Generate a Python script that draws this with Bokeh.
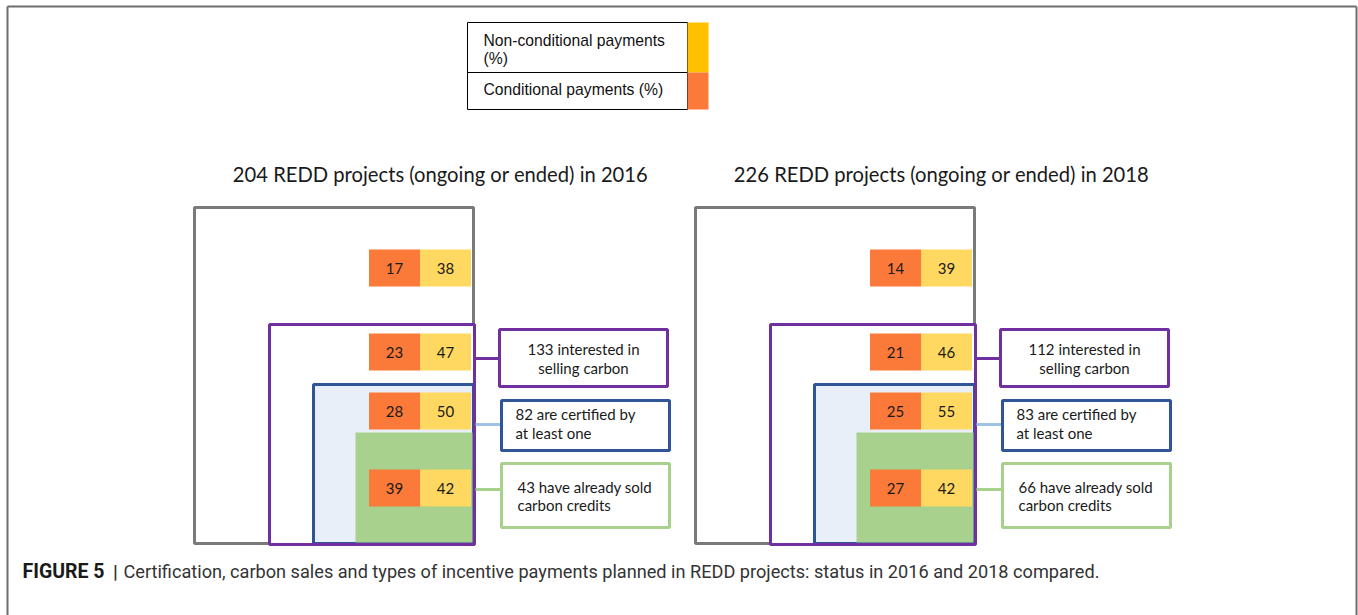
from bokeh.plotting import figure
from bokeh.models import Range1d, ColumnDataSource
from bokeh.core.properties import value
from bokeh.embed import file_html
from bokeh.resources import INLINE

# ---------------- data ----------------
years = ["2016", "2018"]
total_projects = [204, 226]
interested = [133, 112]
certified = [82, 83]
sold = [43, 66]
conditional_pct = [[17, 23, 28, 39], [14, 21, 25, 27]]
nonconditional_pct = [[38, 47, 50, 42], [39, 46, 55, 42]]
legend_labels = ["Non-conditional payments", "(%)", "Conditional payments (%)"]
caption_bold = "FIGURE 5"
caption_sep = "|"
caption_text = ("Certification, carbon sales and types of incentive payments planned "
                "in REDD projects: status in 2016 and 2018 compared.")

# ---------------- layout (screen pixels) ----------------
W, H = 1358, 615
panel_dx = [0, 501]
C_GRAY = "#7a7a7a"
C_PURPLE = "#7030a0"
C_BLUE = "#2f5597"
C_LBLUE = "#9dc3e6"
C_GREEN = "#a9d18e"
C_ORANGE = "#fb7a3a"
C_YELLOW = "#ffd862"
C_FILLBLUE = "#e9eff8"
CAL = value("Lato")

p = figure(width=W, height=H, output_backend="svg", toolbar_location=None,
           x_range=Range1d(0, W), y_range=Range1d(H, 0),
           min_border=0)
p.axis.visible = False
p.grid.visible = False
p.outline_line_color = None
p.background_fill_color = "white"

# outer frame (left, top, right)
p.multi_line(xs=[[7, 7], [7, 1356], [1356, 1356]], ys=[[630, 6], [6, 6], [6, 630]],
             line_color="#6e6e6e", line_width=2)

# legend
p.quad(left=[467, 467], right=[687, 687], top=[22, 72], bottom=[72, 109],
       fill_color="white", line_color="black", line_width=1)
p.quad(left=[687, 687], right=[708, 708], top=[22, 72], bottom=[72, 109],
       fill_color=["#ffc000", "#fb7a3a"], line_color=None)
p.text(x=[483, 483, 483], y=[40, 58, 89], text=legend_labels,
       text_font=value("Liberation Sans"), text_font_size=value("15.7px"),
       text_color="#111111", text_align="left", text_baseline="middle")

def boxes(l, r, t, b):
    ls, rs, ts, bs = [], [], [], []
    for dx in panel_dx:
        ls.append(l + dx); rs.append(r + dx); ts.append(t); bs.append(b)
    return dict(left=ls, right=rs, top=ts, bottom=bs)

# nested boxes
p.quad(**boxes(194, 473, 207, 543), fill_color="white", line_color=C_GRAY, line_width=3)
p.quad(**boxes(269, 474, 324, 544), fill_color="white", line_color=None)
p.quad(**boxes(313, 473, 384, 543), fill_color=C_FILLBLUE, line_color=C_BLUE, line_width=3)
p.quad(**boxes(355, 472, 432, 542), fill_color=C_GREEN, line_color=None)
p.quad(**boxes(269, 474, 324, 544), fill_color=None, line_color=C_PURPLE, line_width=3)

# number boxes
row_tops = [249, 333, 392, 469]
row_h = 37
src = dict(ol=[], orr=[], yl=[], yr=[], t=[], b=[], ox=[], yx=[], cy=[], ot=[], yt=[])
for pi, dx in enumerate(panel_dx):
    for ri, top in enumerate(row_tops):
        src["ol"].append(368.5 + dx); src["orr"].append(419.5 + dx)
        src["yl"].append(419.5 + dx); src["yr"].append(470.5 + dx)
        src["t"].append(top); src["b"].append(top + row_h)
        src["ox"].append(394 + dx); src["yx"].append(445 + dx)
        src["cy"].append(top + row_h / 2)
        src["ot"].append(str(conditional_pct[pi][ri]))
        src["yt"].append(str(nonconditional_pct[pi][ri]))
s = ColumnDataSource(src)
p.quad(left="ol", right="orr", top="t", bottom="b", source=s, fill_color=C_ORANGE, line_color=None)
p.quad(left="yl", right="yr", top="t", bottom="b", source=s, fill_color=C_YELLOW, line_color=None)
p.text(x="ox", y="cy", text="ot", source=s, text_font=CAL, text_font_size=value("15px"),
       text_color="#1a1a1a", text_align="center", text_baseline="middle")
p.text(x="yx", y="cy", text="yt", source=s, text_font=CAL, text_font_size=value("15px"),
       text_color="#1a1a1a", text_align="center", text_baseline="middle")

# connectors
for y, c, x1 in [(358, C_PURPLE, 499), (424, C_LBLUE, 501), (489, C_GREEN, 501)]:
    p.multi_line(xs=[[475 + dx, x1 + dx] for dx in panel_dx], ys=[[y, y] for _ in panel_dx],
                 line_color=c, line_width=3)

# label boxes
p.quad(**boxes(499, 667, 329, 386), fill_color="white", line_color=C_PURPLE, line_width=3)
p.quad(**boxes(501, 669, 400, 450), fill_color="white", line_color=C_BLUE, line_width=3)
p.quad(**boxes(501, 669, 463, 527), fill_color="white", line_color=C_GREEN, line_width=3)

lx, ly, lt, la = [], [], [], []
for pi, dx in enumerate(panel_dx):
    lx += [583 + dx, 583 + dx]; ly += [348, 367]
    lt += [f"{interested[pi]} interested in", "selling carbon"]; la += ["center", "center"]
    lx += [515 + dx, 515 + dx]; ly += [413, 432]
    lt += [f"{certified[pi]} are certified by", "at least one"]; la += ["left", "left"]
    lx += [517 + dx, 517 + dx]; ly += [486, 504]
    lt += [f"{sold[pi]} have already sold", "carbon credits"]; la += ["left", "left"]
p.text(x=lx, y=ly, text=lt, text_align=la, text_font=CAL, text_font_size=value("15px"),
       text_color="#1a1a1a", text_baseline="middle")

# panel titles
p.text(x=[440 + dx for dx in panel_dx], y=[173, 173],
       text=[f"{total_projects[i]} REDD projects (ongoing or ended) in {years[i]}" for i in range(2)],
       text_font=CAL, text_font_size=value("20.2px"), text_color="#1a1a1a",
       text_align="center", text_baseline="middle")

# caption
p.text(x=[22], y=[571], text=[caption_bold], text_font=value("Roboto"),
       text_font_size=value("19.5px"), text_font_style="bold", text_color="#1a1a1a",
       text_align="left", text_baseline="middle")
p.text(x=[115], y=[571], text=[caption_sep], text_font=value("Roboto"),
       text_font_size=value("19px"), text_font_style="bold", text_color="#333333",
       text_align="center", text_baseline="middle")
p.text(x=[123], y=[571], text=[caption_text], text_font=value("Roboto"),
       text_font_size=value("18.15px"), text_color="#333333",
       text_align="left", text_baseline="middle")

open("out.html", "w").write(file_html(p, INLINE))
